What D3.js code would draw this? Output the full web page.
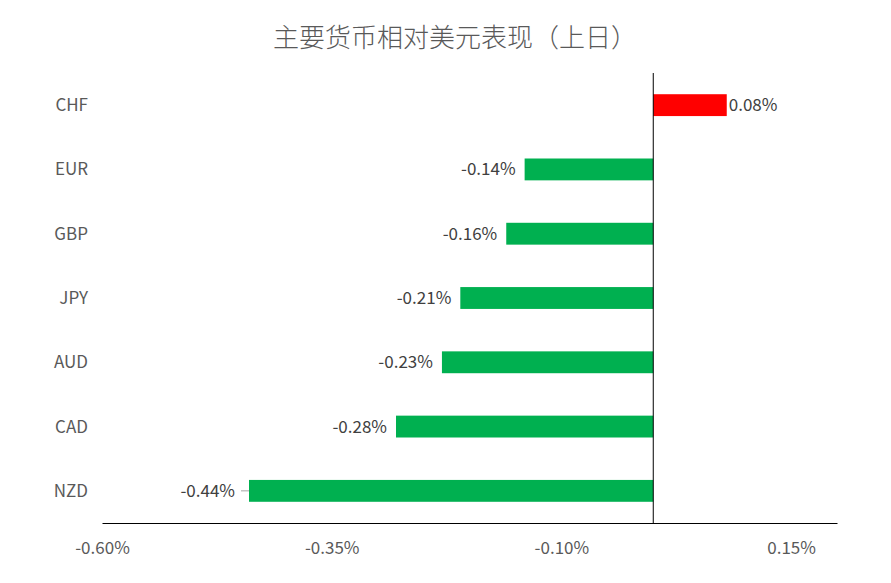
<!DOCTYPE html>
<html>
<head>
<meta charset="utf-8">
<script src="https://cdn.jsdelivr.net/npm/d3@7"></script>
<style>
  body { margin: 0; background: #fff; }
  svg text { font-family: "Noto Sans CJK SC", "Open Sans", sans-serif; }
</style>
</head>
<body>
<script>
var currencies = ['CHF', 'EUR', 'GBP', 'JPY', 'AUD', 'CAD', 'NZD'];
var changes = [0.08, -0.14, -0.16, -0.21, -0.23, -0.28, -0.44];
var tickValues = [-0.60, -0.35, -0.10, 0.15];
var title = '主要货币相对美元表现（上日）';

var width = 891;
var height = 583;

var canvas = d3.select('body')
    .append('svg')
    .attr('width', width)
    .attr('height', height)

var xScale = d3.scaleLinear()
    .domain([-0.6, 0.2])
    .range([102, 837])

var yScale = d3.scaleBand()
    .domain(currencies)
    .range([73, 523])
    .paddingInner(0.66)
    .paddingOuter(0.33)

// title
canvas.append('text')
    .text(title)
    .attr('x', 455)
    .attr('y', 47)
    .attr('text-anchor', 'middle')
    .attr('fill', '#595959')
    .attr('font-size', 26)
    .attr('font-weight', 300)

// bars
canvas.selectAll('rect.bar')
    .data(changes)
    .enter()
    .append('rect')
    .attr('class', 'bar')
    .attr('x', function (d) { return xScale(Math.min(0, d)); })
    .attr('y', function (d, i) { return yScale(currencies[i]); })
    .attr('width', function (d) { return Math.abs(xScale(d) - xScale(0)); })
    .attr('height', yScale.bandwidth())
    .attr('fill', function (d) { return d >= 0 ? '#ff0000' : '#00b050'; })

// value labels
canvas.selectAll('text.val')
    .data(changes)
    .enter()
    .append('text')
    .attr('class', 'val')
    .attr('x', function (d) { return d >= 0 ? xScale(d) + 2 : xScale(d) - (d < -0.4 ? 14 : 9); })
    .attr('y', function (d, i) { return yScale(currencies[i]) + yScale.bandwidth() / 2; })
    .attr('dy', '0.35em')
    .attr('text-anchor', function (d) { return d >= 0 ? 'start' : 'end'; })
    .attr('fill', '#404040')
    .attr('font-size', 17)
    .text(function (d) { return d.toFixed(2) + '%'; })

// leader line for the long label
canvas.selectAll('line.leader')
    .data(changes.filter(function (d) { return d < -0.4; }))
    .enter()
    .append('line')
    .attr('class', 'leader')
    .attr('x1', function (d) { return xScale(d) - 8; })
    .attr('x2', function (d) { return xScale(d); })
    .attr('y1', yScale('NZD') + yScale.bandwidth() / 2)
    .attr('y2', yScale('NZD') + yScale.bandwidth() / 2)
    .attr('stroke', '#a6a6a6')

// category labels
canvas.selectAll('text.cat')
    .data(currencies)
    .enter()
    .append('text')
    .attr('class', 'cat')
    .attr('x', 88)
    .attr('y', function (d) { return yScale(d) + yScale.bandwidth() / 2; })
    .attr('dy', '0.35em')
    .attr('text-anchor', 'end')
    .attr('fill', '#595959')
    .attr('font-size', 17)
    .text(function (d) { return d; })

// axis
var axisB = d3.axisBottom()
    .scale(xScale)
    .tickValues(tickValues)
    .tickSize(0)
    .tickPadding(19)
    .tickFormat(function (d) { return d.toFixed(2) + '%'; })

var gB = canvas.append('g')
    .call(axisB)
    .attr('transform', 'translate(0,523)')
gB.select('.domain').attr('stroke', '#000')
gB.selectAll('text')
    .attr('fill', '#595959')
    .attr('font-size', 17)
    .attr('font-family', '"Noto Sans CJK SC", "Open Sans", sans-serif')

// zero line
canvas.append('line')
    .attr('x1', xScale(0))
    .attr('x2', xScale(0))
    .attr('y1', 73)
    .attr('y2', 523)
    .attr('stroke', '#000')
</script>
</body>
</html>
